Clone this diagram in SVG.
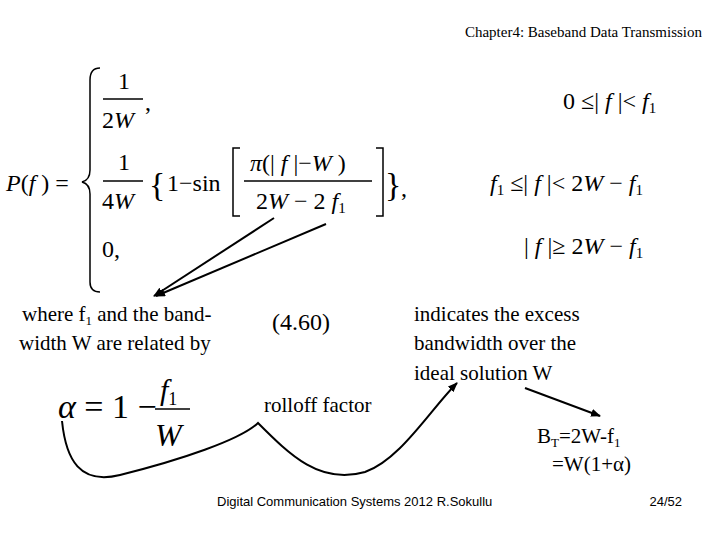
<svg xmlns="http://www.w3.org/2000/svg" width="720" height="540" viewBox="0 0 720 540" style="font-family:'Liberation Serif','Times New Roman','DejaVu Serif',serif">
<defs><marker id="ah" markerWidth="10" markerHeight="8" refX="9" refY="4" orient="auto" markerUnits="userSpaceOnUse"><path d="M0,0 L10,4 L0,8 Z" fill="#000"/></marker></defs>
<style>
text,tspan{font-family:'Liberation Serif','Times New Roman','DejaVu Serif',serif}
.t{font-size:21px}
.m{font-size:24px}
.i{font-style:italic}
.c{stroke:#000;stroke-width:2;fill:none}
.l{stroke:#000;stroke-width:1.5}
text.f{font-family:'Liberation Sans',sans-serif;font-size:13px}
</style>
<rect width="720" height="540" fill="#fff"/>
<g id="title"><text x="702" y="37" font-size="15" text-anchor="end">Chapter4: Baseband Data Transmission</text></g>
<g id="formula">
<text x="6" y="191" class="m"><tspan class="i">P</tspan>(<tspan class="i">f</tspan> ) =</text>
<path d="M100,68 Q90,68 90,80 L90,170 Q90,180 82,182 Q90,184 90,194 L90,282 Q90,292 100,292" class="l" fill="none"/>
<text x="118" y="89" class="m">1</text><line x1="103" y1="99" x2="143" y2="99" class="l"/><text x="102" y="128" class="m">2<tspan class="i">W</tspan></text><text x="145" y="110" class="m">,</text>
<text x="118" y="170" class="m">1</text><line x1="103" y1="181" x2="143" y2="181" class="l"/><text x="102" y="209" class="m">4<tspan class="i">W</tspan></text>
<text x="149" y="196" font-size="34">{</text>
<text x="167" y="191" class="m">1−sin</text>
<path d="M240,148 L233,148 L233,216 L240,216 M376,148 L383,148 L383,216 L376,216" class="l" fill="none"/>
<text x="250" y="171" class="m"><tspan class="i">π</tspan>(| <tspan class="i">f</tspan> |−<tspan class="i">W</tspan> )</text>
<line x1="244" y1="181" x2="372" y2="181" class="l"/>
<text x="256" y="209" class="m">2<tspan class="i">W</tspan> − 2 <tspan class="i">f</tspan><tspan font-size="15" dy="4">1</tspan></text>
<text x="385" y="196" font-size="34">}</text><text x="401" y="196" class="m">,</text>
<text x="102" y="257" class="m">0,</text>
<text x="563" y="109" class="m">0 ≤| <tspan class="i">f</tspan> |&lt; <tspan class="i">f</tspan><tspan font-size="15" dy="4">1</tspan></text>
<text x="490" y="191" class="m"><tspan class="i">f</tspan><tspan font-size="15" dy="4">1</tspan><tspan dy="-4"> ≤| </tspan><tspan class="i">f</tspan> |&lt; 2<tspan class="i">W</tspan> − <tspan class="i">f</tspan><tspan font-size="15" dy="4">1</tspan></text>
<text x="524" y="254" class="m">| <tspan class="i">f</tspan> |≥ 2<tspan class="i">W</tspan> − <tspan class="i">f</tspan><tspan font-size="15" dy="4">1</tspan></text>
</g>
<g id="where"><text x="22" y="321" class="t">where f<tspan font-size="13" dy="4">1</tspan><tspan dy="-4"> and the band-</tspan></text><text x="19" y="350" class="t">width W are related by</text></g>
<g id="eqnum"><text x="272" y="330" class="m">(4.60)</text></g>
<g id="indicates"><text x="414" y="321" class="t">indicates the excess</text><text x="414" y="350" class="t">bandwidth over the</text><text x="414" y="380" class="t">ideal solution W</text></g>
<g id="alpha"><text x="58" y="418" font-size="34"><tspan class="i">α</tspan> = 1 −</text>
<text x="160" y="400" class="i" font-size="30">f<tspan font-size="18" dy="5" font-style="normal">1</tspan></text>
<line x1="155" y1="409" x2="190" y2="409" class="l"/>
<text x="155" y="446" class="i" font-size="32">W</text></g>
<g id="rolloff"><text x="264" y="412" class="t">rolloff factor</text></g>
<g id="bt"><text x="537" y="443" class="t">B<tspan font-size="13" dy="4">T</tspan><tspan dy="-4">=2W-f</tspan><tspan font-size="13" dy="4">1</tspan></text><text x="552" y="471" class="t">=W(1+α)</text></g>
<g id="connectors">
<line x1="274" y1="218" x2="154" y2="296" class="c" marker-end="url(#ah)"/>
<line x1="326" y1="224" x2="156" y2="296" class="c" marker-end="url(#ah)"/>
<path d="M62,421 C66,460 80,485 120,475 C180,460 240,440 258,423 C290,455 320,485 365,472 C400,460 430,410 457,383" class="c" marker-end="url(#ah)"/>
<line x1="525" y1="388" x2="600" y2="416" class="c" marker-end="url(#ah)"/>
</g>
<g id="footer"><text x="217" y="506" class="f">Digital Communication Systems 2012 R.Sokullu</text><text x="682" y="506" class="f" text-anchor="end">24/52</text></g>
</svg>
